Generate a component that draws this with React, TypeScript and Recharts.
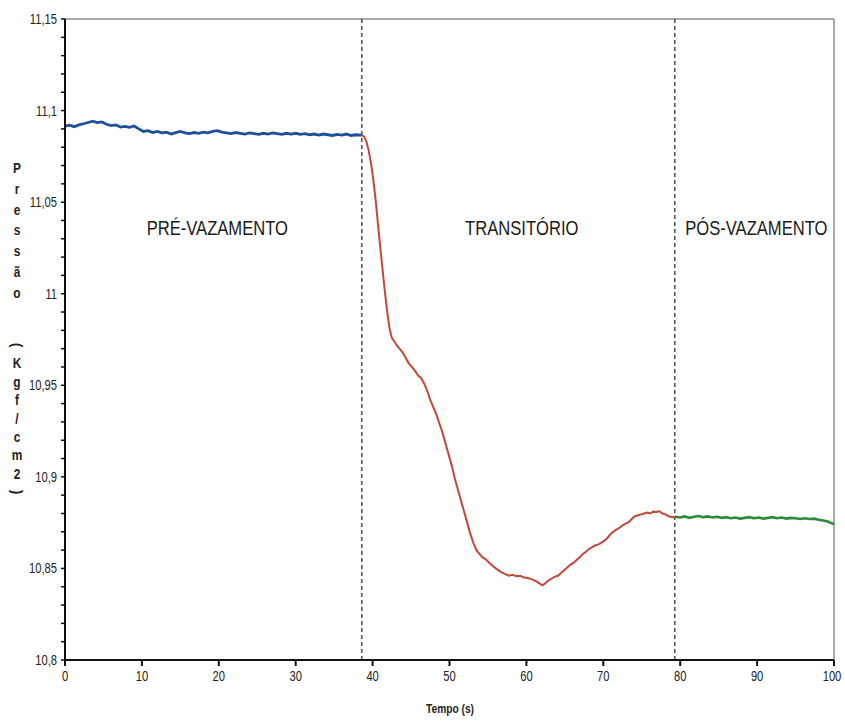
import React from 'react'
import { LineChart, Line, XAxis, YAxis, ReferenceLine, ReferenceDot } from 'recharts'

// pré-vazamento (azul)
const preTime = [0, 0.6, 1.2, 1.8, 2.4, 3.0, 3.6, 4.2, 4.8, 5.4, 6.0, 6.6, 7.2, 7.8, 8.4, 9.0, 9.6, 10.2, 10.8, 11.4, 12.0, 12.6, 13.2, 13.8, 14.4, 15.0, 15.6, 16.2, 16.8, 17.4, 18.0, 18.6, 19.2, 19.8, 20.4, 21.0, 21.6, 22.2, 22.8, 23.4, 24.0, 24.6, 25.2, 25.8, 26.4, 27.0, 27.6, 28.2, 28.8, 29.4, 30.0, 30.6, 31.2, 31.8, 32.4, 33.0, 33.6, 34.2, 34.8, 35.4, 36.0, 36.6, 37.2, 37.8, 38.6]
const preValues = [11.0915, 11.092, 11.0912, 11.0922, 11.0928, 11.0935, 11.0942, 11.0934, 11.0938, 11.0925, 11.0918, 11.0922, 11.091, 11.0914, 11.0908, 11.0916, 11.09, 11.0886, 11.089, 11.088, 11.0886, 11.0878, 11.0882, 11.0872, 11.088, 11.0886, 11.0878, 11.0874, 11.088, 11.0876, 11.0882, 11.0878, 11.0886, 11.089, 11.0882, 11.0878, 11.0874, 11.088, 11.0876, 11.0872, 11.0878, 11.0874, 11.087, 11.0876, 11.0872, 11.0878, 11.0874, 11.087, 11.0876, 11.0872, 11.0876, 11.087, 11.0874, 11.0868, 11.0872, 11.0866, 11.0872, 11.0868, 11.0864, 11.087, 11.0866, 11.0872, 11.0864, 11.0868, 11.0866]

// transitório (vermelho)
const transTime = [38.6, 38.9, 39.2, 39.5, 39.8, 40.1, 40.4, 40.7, 41.0, 41.3, 41.6, 41.9, 42.2, 42.5, 42.8, 43.1, 43.5, 43.9, 44.3, 44.7, 45.1, 45.5, 45.9, 46.3, 46.7, 47.1, 47.5, 47.9, 48.3, 48.7, 49.1, 49.5, 49.9, 50.3, 50.7, 51.1, 51.5, 51.9, 52.3, 52.7, 53.1, 53.5, 53.9, 54.3, 54.7, 55.2, 55.7, 56.2, 56.7, 57.2, 57.7, 58.2, 58.7, 59.2, 59.7, 60.2, 60.7, 61.2, 61.7, 62.1, 62.5, 62.9, 63.3, 63.7, 64.1, 64.5, 64.9, 65.3, 65.7, 66.1, 66.5, 66.9, 67.3, 67.7, 68.1, 68.5, 68.9, 69.3, 69.7, 70.1, 70.5, 70.9, 71.3, 71.7, 72.1, 72.5, 72.9, 73.3, 73.7, 74.1, 74.5, 74.9, 75.3, 75.7, 76.1, 76.5, 76.9, 77.3, 77.7, 78.1, 78.5, 79.0, 79.3]
const transValues = [11.0866, 11.0858, 11.083, 11.078, 11.071, 11.062, 11.051, 11.038, 11.025, 11.013, 11.001, 10.99, 10.981, 10.976, 10.974, 10.972, 10.97, 10.968, 10.965, 10.962, 10.96, 10.958, 10.9555, 10.954, 10.951, 10.947, 10.942, 10.938, 10.934, 10.929, 10.924, 10.918, 10.912, 10.906, 10.899, 10.893, 10.887, 10.881, 10.875, 10.869, 10.864, 10.86, 10.858, 10.856, 10.855, 10.853, 10.851, 10.8495, 10.848, 10.847, 10.846, 10.8465, 10.8458, 10.846, 10.845, 10.8448, 10.844, 10.8432, 10.8418, 10.8408, 10.842, 10.8435, 10.8445, 10.8455, 10.846, 10.8475, 10.849, 10.8505, 10.852, 10.853, 10.8545, 10.856, 10.8578, 10.859, 10.8605, 10.8615, 10.8625, 10.863, 10.864, 10.865, 10.8665, 10.8685, 10.87, 10.8712, 10.8722, 10.8735, 10.8745, 10.8752, 10.877, 10.8785, 10.879, 10.8795, 10.88, 10.8805, 10.88, 10.881, 10.8808, 10.8812, 10.88, 10.8795, 10.8785, 10.878, 10.8782]

// pós-vazamento (verde)
const posTime = [79.3, 80.0, 80.6, 81.2, 81.8, 82.4, 83.0, 83.6, 84.2, 84.8, 85.4, 86.0, 86.6, 87.2, 87.8, 88.4, 89.0, 89.6, 90.2, 90.8, 91.4, 92.0, 92.6, 93.2, 93.8, 94.4, 95.0, 95.6, 96.2, 96.8, 97.4, 98.0, 98.6, 99.2, 99.6, 100]
const posValues = [10.8782, 10.8778, 10.8784, 10.8776, 10.8782, 10.8786, 10.878, 10.8784, 10.8778, 10.8782, 10.8776, 10.878, 10.8774, 10.8778, 10.8772, 10.8776, 10.878, 10.8774, 10.8778, 10.8772, 10.8776, 10.878, 10.8774, 10.8778, 10.8772, 10.8776, 10.8774, 10.877, 10.8774, 10.877, 10.8772, 10.8766, 10.8762, 10.8756, 10.8748, 10.8742]

const xTicks = [0, 10, 20, 30, 40, 50, 60, 70, 80, 90, 100]
const yTicks = [10.8, 10.81, 10.82, 10.83, 10.84, 10.85, 10.86, 10.87, 10.88, 10.89, 10.9, 10.91, 10.92, 10.93, 10.94, 10.95, 10.96, 10.97, 10.98, 10.99, 11, 11.01, 11.02, 11.03, 11.04, 11.05, 11.06, 11.07, 11.08, 11.09, 11.1, 11.11, 11.12, 11.13, 11.14, 11.15]
const yMajor = [10.8, 10.85, 10.9, 10.95, 11, 11.05, 11.1, 11.15]

// limites das fases (s)
const phaseBounds = [38.6, 79.3]
const phaseLabels = [
    { t: 19.8, v: 11.036, text: 'PRÉ-VAZAMENTO' },
    { t: 59.4, v: 11.036, text: 'TRANSITÓRIO' },
    { t: 89.9, v: 11.036, text: 'PÓS-VAZAMENTO' },
]

const FONT = "'Liberation Sans', Arial, sans-serif"

const toRows = (ts: number[], vs: number[]) => ts.map((t, i) => ({ t, v: vs[i] }))
const fmt = (v: number) => String(v).replace('.', ',')

// texto estreito (tipo Arial Narrow): escala horizontal
const narrowText = (x: number, y: number, s: string, size: number, anchor: 'start' | 'middle' | 'end', sx = 0.8) => (
    <text
        transform={`translate(${x},${y}) scale(${sx},1)`}
        textAnchor={anchor}
        fontSize={size}
        fill="#222"
        fontFamily={FONT}
    >
        {s}
    </text>
)

const YTick = ({ x, y, payload }: any) => {
    const isMajor = yMajor.some(m => Math.abs(m - payload.value) < 1e-6)
    if (!isMajor) return <g />
    return narrowText(x, y + 5, fmt(payload.value), 14, 'end')
}

const XTick = ({ x, y, payload }: any) => {
    const dx = payload.value === 100 ? -2 : 0
    return narrowText(x + dx, y + 13, String(payload.value), 14, 'middle')
}

const PhaseLabel = ({ viewBox, value }: any) => {
    const cx = viewBox.x + (viewBox.width || 0) / 2
    const cy = viewBox.y + (viewBox.height || 0) / 2 + 7
    return (
        <text
            transform={`translate(${cx},${cy}) scale(0.83,1)`}
            textAnchor="middle"
            fontSize={20}
            fill="#1a1a1a"
            fontFamily={FONT}
        >
            {value}
        </text>
    )
}

const upperChars = ['P', 'r', 'e', 's', 's', 'ã', 'o']
const lowerChars = ['(', 'K', 'g', 'f', '/', 'c', 'm', '2', ')']

export default function App() {
    const pre = toRows(preTime, preValues)
    const trans = toRows(transTime, transValues)
    const pos = toRows(posTime, posValues)

    const charStyle = (top: number, rotate: boolean): React.CSSProperties => ({
        position: 'absolute',
        left: 10,
        top,
        width: 14,
        textAlign: 'center',
        fontFamily: FONT,
        fontWeight: 'bold',
        fontSize: 14,
        color: '#222',
        lineHeight: '14px',
        transform: rotate ? 'rotate(90deg)' : 'scaleX(0.85)',
    })

    return (
        <div style={{ position: 'absolute', left: 0, top: 0, width: 845, height: 722, background: '#fff' }}>
            <LineChart width={845} height={722} margin={{ top: 19, right: 11, bottom: 32, left: 0 }}>
                <XAxis
                    type="number"
                    dataKey="t"
                    domain={[0, 100]}
                    ticks={xTicks}
                    interval={0}
                    height={30}
                    axisLine={{ stroke: '#111', strokeWidth: 2 }}
                    tickLine={{ stroke: '#111', strokeWidth: 2 }}
                    tickSize={6}
                    tickMargin={2}
                    tick={<XTick />}
                />
                <YAxis
                    type="number"
                    domain={[10.8, 11.15]}
                    ticks={yTicks}
                    interval={0}
                    width={65}
                    allowDataOverflow
                    axisLine={{ stroke: '#111', strokeWidth: 2 }}
                    tickLine={{ stroke: '#111', strokeWidth: 1.5 }}
                    tickSize={4}
                    tickMargin={4}
                    tick={<YTick />}
                />
                <ReferenceLine y={11.15} stroke="#8c8c8c" strokeWidth={1.5} />
                <ReferenceLine x={100} stroke="#8c8c8c" strokeWidth={1.5} />
                {phaseBounds.map(b => (
                    <ReferenceLine key={b} x={b} stroke="#333" strokeWidth={1.3} strokeDasharray="4 3" />
                ))}
                <Line data={pre} dataKey="v" type="linear" stroke="#1d4f9c" strokeWidth={2.8} dot={false} isAnimationActive={false} />
                <Line data={trans} dataKey="v" type="linear" stroke="#c4473c" strokeWidth={2} dot={false} isAnimationActive={false} />
                <Line data={pos} dataKey="v" type="linear" stroke="#2e8a3b" strokeWidth={2.6} dot={false} isAnimationActive={false} />
                {phaseLabels.map(p => (
                    <ReferenceDot
                        key={p.text}
                        x={p.t}
                        y={p.v}
                        r={0}
                        stroke="none"
                        label={<PhaseLabel value={p.text} />}
                    />
                ))}
            </LineChart>

            {upperChars.map((c, i) => (
                <div key={'u' + i} style={charStyle(161 + i * 20.8, false)}>{c}</div>
            ))}
            {lowerChars.map((c, i) => (
                <div key={'l' + i} style={charStyle(338 + i * 18.4, c === '(' || c === ')')}>{c}</div>
            ))}

            <div style={{ position: 'absolute', left: 400, width: 100, top: 702, textAlign: 'center', fontFamily: FONT, fontWeight: 'bold', fontSize: 12, color: '#222', transform: 'scaleX(0.85)' }}>
                Tempo (s)
            </div>
        </div>
    )
}
